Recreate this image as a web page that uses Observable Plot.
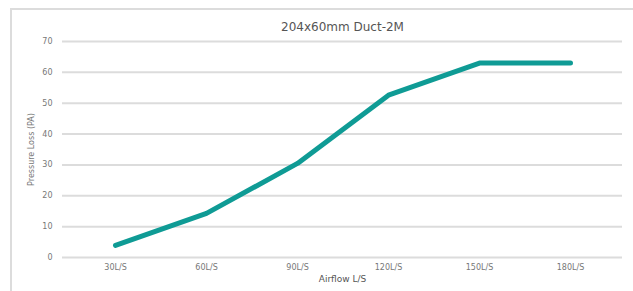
<!DOCTYPE html>
<html>
<head>
<meta charset="utf-8">
<script src="https://cdn.jsdelivr.net/npm/d3@7"></script>
<script src="https://cdn.jsdelivr.net/npm/@observablehq/plot@0.6"></script>
<style>
  html, body { margin: 0; padding: 0; background: #fff; }
  #wrap { position: relative; width: 633px; height: 291px; overflow: hidden; }
  #frame { position: absolute; left: 10px; top: 8px; width: 700px; height: 400px;
           border-top: 2px solid #dcdcdc; border-left: 2px solid #dcdcdc; }
  #chart { position: absolute; left: 0; top: 0; }
</style>
</head>
<body>
<div id="wrap"><div id="frame"></div><div id="chart"></div></div>
<script>
const title = "204x60mm Duct-2M";
const categories = ["30L/S", "60L/S", "90L/S", "120L/S", "150L/S", "180L/S"];
const pressureLoss = [3.9, 14.3, 30.5, 52.6, 63, 63];
const yTicks = [0, 10, 20, 30, 40, 50, 60, 70];
const xLabel = "Airflow L/S";
const yLabel = "Pressure Loss (PA)";

const data = categories.map((c, i) => ({airflow: c, loss: pressureLoss[i]}));

const font = "DejaVu Sans, sans-serif";
const plot = Plot.plot({
  width: 633,
  height: 291,
  marginLeft: 62,
  marginRight: 11,
  marginTop: 41,
  marginBottom: 34,
  style: {fontFamily: font, fontSize: "8px", color: "#777", background: "transparent"},
  x: {type: "band", domain: categories, label: null},
  y: {domain: [0, 70], label: null},
  marks: [
    Plot.ruleY(yTicks, {stroke: "#dcdcdc", strokeWidth: 2}),
    Plot.axisY(yTicks, {tickSize: 0, tickPadding: 10, label: null, fill: "#777"}),
    Plot.axisX({tickSize: 0, tickPadding: 7, label: null, fill: "#777"}),
    Plot.line(data, {x: "airflow", y: "loss", stroke: "#0f9b95", strokeWidth: 5,
                     strokeLinecap: "round", strokeLinejoin: "round"}),
    Plot.text([title], {frameAnchor: "top", dy: -19, fontSize: 12, fill: "#555", fontFamily: font}),
    Plot.text([xLabel], {frameAnchor: "bottom", dy: 24, fontSize: 9, fill: "#555", fontFamily: font}),
    Plot.text([yLabel], {frameAnchor: "left", dx: -31, rotate: -90, textAnchor: "middle",
                         fontSize: 8, fill: "#777", fontFamily: font})
  ]
});
document.getElementById("chart").appendChild(plot);
</script>
</body>
</html>
